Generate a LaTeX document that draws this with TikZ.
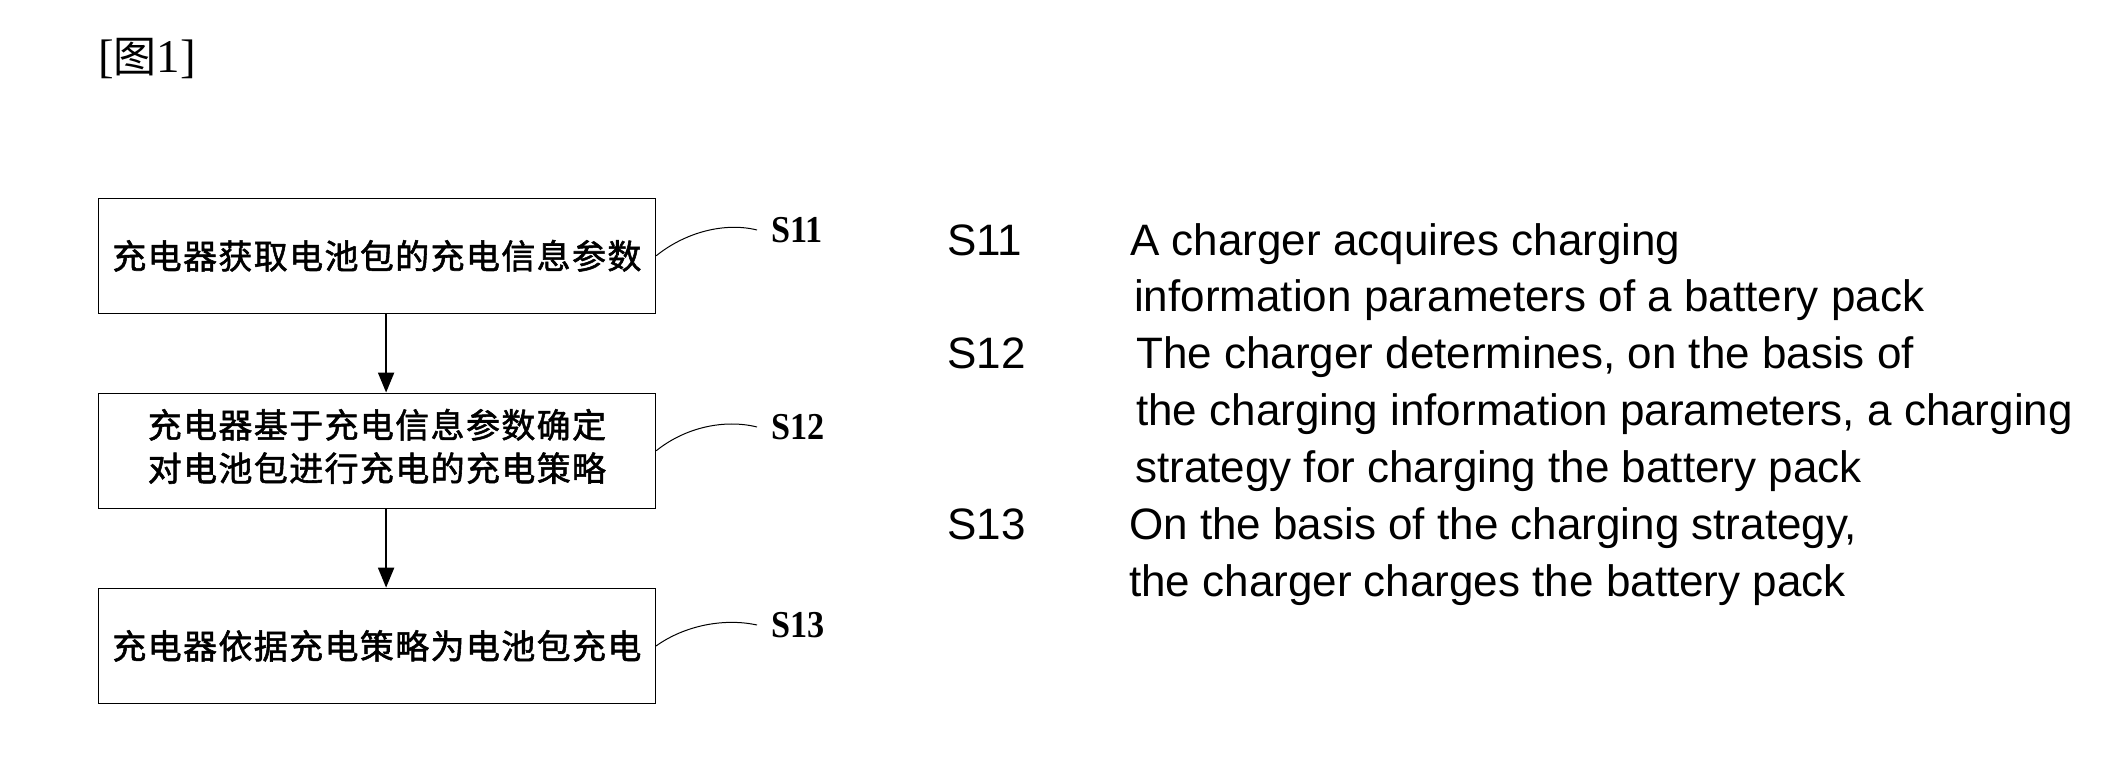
\documentclass[tikz,border=0pt]{standalone}
\usepackage{fontspec}
\setmainfont{Liberation Serif}
\newfontfamily\cjk[LetterSpace=4,FakeBold=1.6]{Noto Sans CJK SC}
\newfontfamily\cjkplain{Noto Sans CJK SC}
\newfontfamily\arial{Liberation Sans}
\usetikzlibrary{arrows.meta}
\newcommand\cjkfont{\cjk\fontsize{34}{43.3}\selectfont}
\newcommand\engfont{\arial\fontsize{44}{57}\selectfont}
\newcommand\labfont{\fontsize{38}{40}\selectfont\bfseries}
\newcommand\lab[1]{\scalebox{0.9}[1]{#1}}
\begin{document}
\begin{tikzpicture}[x=1pt,y=-1pt,
  box/.style={draw, line width=1.5pt, minimum width=557pt, minimum height=115pt, inner sep=0pt, font=\cjkfont},
  arr/.style={line width=2pt, -{Triangle[length=20pt,width=16pt]}},
  lead/.style={line width=1pt},
  steplab/.style={inner sep=0pt, anchor=west, font=\labfont},
  eng/.style={inner sep=0pt, anchor=base west, font=\engfont}]
\useasboundingbox (0,0) rectangle (2125,778);

% title
\node[inner sep=0pt, anchor=base west] (title) at (98,73)
  {\fontsize{47}{50}\selectfont[{\cjkplain\fontsize{43}{46}\selectfont 图}1]};

% boxes
\node[box] (b1) at (376.9,255.8) {充电器获取电池包的充电信息参数};
\node[box] (b2) at (376.9,450.8) {\raisebox{-6pt}{\begin{tabular}{@{}c@{}}充电器基于充电信息参数确定\\对电池包进行充电的充电策略\end{tabular}}};
\node[box] (b3) at (376.9,645.9) {充电器依据充电策略为电池包充电};

% arrows
\draw[arr] ([xshift=9.2pt]b1.south) -- ([xshift=9.2pt]b2.north);
\draw[arr] ([xshift=9.2pt]b2.south) -- ([xshift=9.2pt]b3.north);

% step labels
\node[steplab] (l1) at (771,230) {\lab{S11}};
\node[steplab] (l2) at (771,427) {\lab{S12}};
\node[steplab] (l3) at (771,625) {\lab{S13}};

\draw[lead] (b1.east) .. controls +(29.5,-23.8) and +(-32,-8) .. ([xshift=-14pt]l1.west);
\draw[lead] (b2.east) .. controls +(29.5,-23.8) and +(-32,-8) .. ([xshift=-14pt]l2.west);
\draw[lead] (b3.east) .. controls +(29.5,-21) and +(-32,-7) .. ([xshift=-14pt]l3.west);

% English legend
\node[eng] (s11) at (947,255) {S11};
\node[eng] (t11a) at (1130,255) {A charger acquires charging};
\node[eng] (t11b) at (1134,311.9) {information parameters of a battery pack};
\node[eng] (s12) at (947,368.8) {S12};
\node[eng] (t12a) at (1136,368.8) {The charger determines, on the basis of};
\node[eng] (t12b) at (1136,425.7) {the charging information parameters, a charging};
\node[eng] (t12c) at (1135,482.6) {strategy for charging the battery pack};
\node[eng] (s13) at (947,539.5) {S13};
\node[eng] (t13a) at (1129,539.5) {On the basis of the charging strategy,};
\node[eng] (t13b) at (1129,596.4) {the charger charges the battery pack};
\end{tikzpicture}
\end{document}
